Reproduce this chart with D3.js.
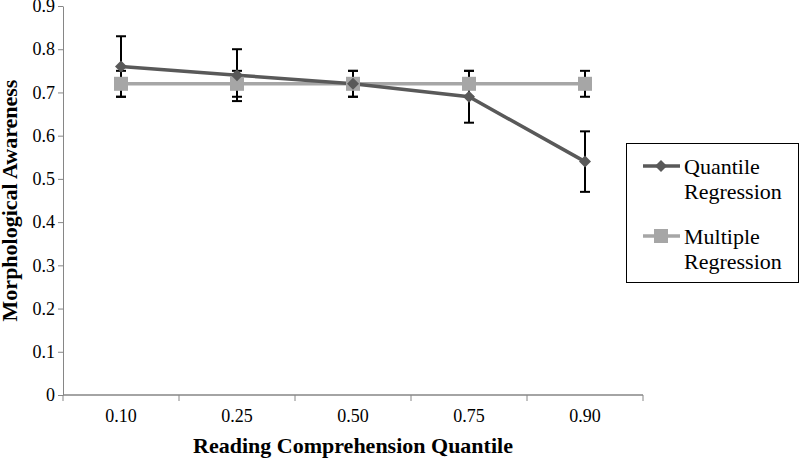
<!DOCTYPE html>
<html>
<head>
<meta charset="utf-8">
<script src="https://cdn.jsdelivr.net/npm/d3@7"></script>
<style>
  body { margin: 0; background: #fff; }
  svg text { font-family: "Liberation Serif", Tinos, "Times New Roman", Times, "DejaVu Serif", serif !important; }
</style>
</head>
<body>
<svg id="chart" width="800" height="458"></svg>
<script>
// quantiles on the x axis
const quantiles = ["0.10", "0.25", "0.50", "0.75", "0.90"];
// quantile regression estimates with error bar ends
const quantileEst = [0.76, 0.74, 0.72, 0.69, 0.54];
const quantileLow = [0.69, 0.68, 0.69, 0.63, 0.47];
const quantileHigh = [0.83, 0.80, 0.75, 0.75, 0.61];
// multiple regression estimate (same at every quantile)
const multipleEst = [0.72, 0.72, 0.72, 0.72, 0.72];
const multipleLow = [0.69, 0.69, 0.69, 0.69, 0.69];
const multipleHigh = [0.75, 0.75, 0.75, 0.75, 0.75];
const yTicks = [0, 0.1, 0.2, 0.3, 0.4, 0.5, 0.6, 0.7, 0.8, 0.9];

const serif = "'Liberation Serif', Tinos, 'Times New Roman', Times, serif";

const svg = d3.select("svg#chart");
const margin = { top: 6, left: 63, right: 157, bottom: 63 };
const width = +svg.attr("width");
const height = +svg.attr("height");
const chartWidth = width - margin.left - margin.right;
const chartHeight = height - margin.top - margin.bottom;

const axisColor = "#868686";
const darkGray = "#595959";
const lightGray = "#a6a6a6";

let xScale = d3.scaleBand().domain(quantiles).range([0, chartWidth]);
let yScale = d3.scaleLinear().domain([0, 0.9]).range([chartHeight, 0]);

let chart = svg.append("g").attr("transform", `translate(${margin.left},${margin.top})`);

// y axis
let leftAxis = d3.axisLeft(yScale).tickValues(yTicks).tickSize(5).tickSizeOuter(0)
    .tickFormat(d => d === 0 ? "0" : d3.format(".1f")(d));
let leftG = chart.append("g").call(leftAxis).attr("font-family", serif);
leftG.select(".domain").attr("stroke", axisColor).attr("stroke-width", 1);
leftG.selectAll(".tick line").attr("stroke", axisColor);
leftG.selectAll(".tick text").attr("font-size", 18).attr("fill", "#000")
    .attr("font-family", serif).attr("x", -8);

// x axis: ticks between bands
let bottomG = chart.append("g").attr("transform", `translate(0,${chartHeight})`);
bottomG.append("line").attr("x1", 0).attr("x2", chartWidth)
    .attr("stroke", axisColor).attr("stroke-width", 1.5);
const boundaries = quantiles.map(q => xScale(q)).concat([chartWidth]);
bottomG.selectAll("line.tick").data(boundaries).join("line").attr("class", "tick")
    .attr("x1", d => d).attr("x2", d => d).attr("y1", 0).attr("y2", 6)
    .attr("stroke", axisColor);
bottomG.selectAll("text.label").data(quantiles).join("text").attr("class", "label")
    .attr("x", d => xScale(d) + xScale.bandwidth() / 2)
    .attr("y", 27).attr("text-anchor", "middle").attr("font-size", 18)
    .attr("font-family", serif)
    .text(d => d);

// axis titles
svg.append("text")
    .attr("x", margin.left + chartWidth / 2).attr("y", 453)
    .attr("text-anchor", "middle").attr("font-size", 22).attr("font-weight", "bold")
    .attr("font-family", serif)
    .text("Reading Comprehension Quantile");
svg.append("text")
    .attr("transform", `translate(17,${margin.top + chartHeight / 2}) rotate(-90)`)
    .attr("text-anchor", "middle").attr("font-size", 22).attr("font-weight", "bold")
    .attr("font-family", serif)
    .text("Morphological Awareness");

const cx = (d, i) => xScale(quantiles[i]) + xScale.bandwidth() / 2;

// lines
let line = d3.line().x((d, i) => cx(d, i)).y(d => yScale(d));
chart.append("path").datum(multipleEst).attr("d", line)
    .attr("fill", "none").attr("stroke", lightGray).attr("stroke-width", 3.5);
chart.append("path").datum(quantileEst).attr("d", line)
    .attr("fill", "none").attr("stroke", darkGray).attr("stroke-width", 3.5);

// error bars
function errorBars(lows, highs, cls) {
    let g = chart.append("g").attr("class", cls);
    g.selectAll("line.bar").data(lows).join("line").attr("class", "bar")
        .attr("x1", cx).attr("x2", cx)
        .attr("y1", d => yScale(d)).attr("y2", (d, i) => yScale(highs[i]))
        .attr("stroke", "#000").attr("stroke-width", 2);
    g.selectAll("line.lo").data(lows).join("line").attr("class", "lo")
        .attr("x1", (d, i) => cx(d, i) - 5).attr("x2", (d, i) => cx(d, i) + 5)
        .attr("y1", d => yScale(d)).attr("y2", d => yScale(d))
        .attr("stroke", "#000").attr("stroke-width", 2);
    g.selectAll("line.hi").data(highs).join("line").attr("class", "hi")
        .attr("x1", (d, i) => cx(d, i) - 5).attr("x2", (d, i) => cx(d, i) + 5)
        .attr("y1", d => yScale(d)).attr("y2", d => yScale(d))
        .attr("stroke", "#000").attr("stroke-width", 2);
}
errorBars(multipleLow, multipleHigh, "err-multiple");
errorBars(quantileLow, quantileHigh, "err-quantile");

// markers
chart.selectAll("rect.marker").data(multipleEst).join("rect").attr("class", "marker")
    .attr("x", (d, i) => cx(d, i) - 7).attr("y", d => yScale(d) - 7)
    .attr("width", 14).attr("height", 14).attr("fill", lightGray);
chart.selectAll("path.diamond").data(quantileEst).join("path").attr("class", "diamond")
    .attr("transform", (d, i) => `translate(${cx(d, i)},${yScale(d)})`)
    .attr("d", "M0,-6L6,0L0,6L-6,0Z").attr("fill", darkGray);

// legend
let legend = svg.append("g");
legend.append("rect").attr("x", 626.5).attr("y", 143.5).attr("width", 172).attr("height", 139)
    .attr("fill", "#fff").attr("stroke", "#000").attr("stroke-width", 1);
const legendItems = [
    { lines: ["Quantile", "Regression"], color: darkGray, y: 166, shape: "diamond" },
    { lines: ["Multiple", "Regression"], color: lightGray, y: 236, shape: "square" }
];
legendItems.forEach(item => {
    legend.append("line").attr("x1", 643).attr("x2", 680).attr("y1", item.y).attr("y2", item.y)
        .attr("stroke", item.color).attr("stroke-width", 3.5);
    if (item.shape === "diamond") {
        legend.append("path").attr("transform", `translate(661,${item.y})`)
            .attr("d", "M0,-6L6,0L0,6L-6,0Z").attr("fill", item.color);
    } else {
        legend.append("rect").attr("x", 654).attr("y", item.y - 7).attr("width", 14).attr("height", 14)
            .attr("fill", item.color);
    }
    item.lines.forEach((t, k) => {
        legend.append("text").attr("x", 684).attr("y", item.y + 8 + k * 25)
            .attr("font-size", 22).attr("font-family", serif).text(t);
    });
});
</script>
</body>
</html>
